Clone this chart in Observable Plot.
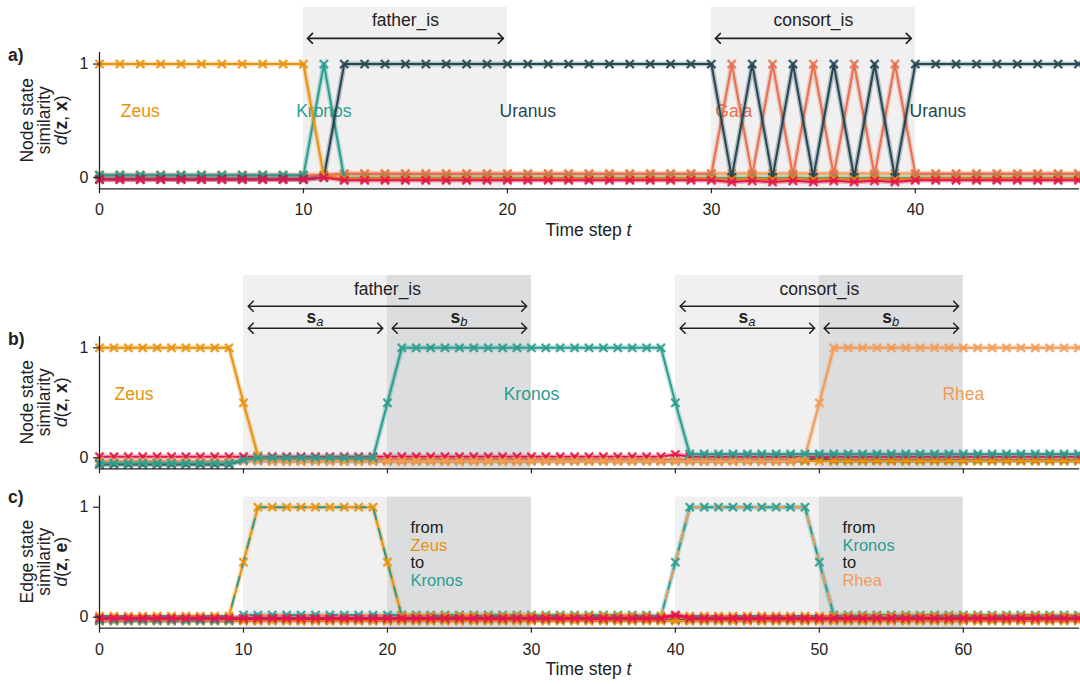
<!DOCTYPE html>
<html>
<head>
<meta charset="utf-8">
<script src="https://cdn.jsdelivr.net/npm/d3@7"></script>
<script src="https://cdn.jsdelivr.net/npm/@observablehq/plot@0.6"></script>
<style>
  body { margin: 0; background: #fff; }
  #fig { width: 1080px; height: 684px; overflow: hidden; }
  #fig svg { display: block; }
</style>
</head>
<body>
<div id="fig"></div>
<script>
// ---------- data ----------
// Panel a: node state similarity, time steps 0..48
const stepsA = d3.range(0, 49);
const zeusA = [
  1, 1, 1, 1, 1, 1, 1, 1, 1, 1,
  1, 0.01, -0.01, -0.01, -0.01, -0.01, -0.01, -0.01, -0.01, -0.01,
  -0.01, -0.01, -0.01, -0.01, -0.01, -0.01, -0.01, -0.01, -0.01, -0.01,
  -0.01, -0.02, -0.01, -0.02, -0.01, -0.02, -0.01, -0.02, -0.01, -0.02,
  -0.01, -0.01, -0.01, -0.01, -0.01, -0.01, -0.01, -0.01, -0.01
];
const kronosA = [
  0.02, 0.02, 0.02, 0.02, 0.02, 0.02, 0.02, 0.02, 0.02, 0.02,
  0.02, 1, -0.005, -0.005, -0.005, -0.005, -0.005, -0.005, -0.005, -0.005,
  -0.005, -0.005, -0.005, -0.005, -0.005, -0.005, -0.005, -0.005, -0.005, -0.005,
  -0.005, -0.005, -0.005, -0.005, -0.005, -0.005, -0.005, -0.005, -0.005, -0.005,
  -0.005, -0.005, -0.005, -0.005, -0.005, -0.005, -0.005, -0.005, -0.005
];
const uranusA = [
  -0.015, -0.015, -0.015, -0.015, -0.015, -0.015, -0.015, -0.015, -0.015, -0.015,
  -0.015, 0, 1, 1, 1, 1, 1, 1, 1, 1,
  1, 1, 1, 1, 1, 1, 1, 1, 1, 1,
  1, 0, 1, 0, 1, 0, 1, 0, 1, 0,
  1, 1, 1, 1, 1, 1, 1, 1, 1
];
const gaiaA = [
  0.02, 0.02, 0.02, 0.02, 0.02, 0.02, 0.02, 0.02, 0.02, 0.02,
  0.02, 0.02, 0.03, 0.03, 0.03, 0.03, 0.03, 0.03, 0.03, 0.03,
  0.03, 0.03, 0.03, 0.03, 0.03, 0.03, 0.03, 0.03, 0.03, 0.03,
  0.03, 1, 0.02, 1, 0.02, 1, 0.02, 1, 0.02, 1,
  0.03, 0.03, 0.03, 0.03, 0.03, 0.03, 0.03, 0.03, 0.03
];
const rheaA = [
  0.02, 0.02, 0.02, 0.02, 0.02, 0.02, 0.02, 0.02, 0.02, 0.02,
  0.02, 0.02, 0.035, 0.035, 0.035, 0.035, 0.035, 0.035, 0.035, 0.035,
  0.035, 0.035, 0.035, 0.035, 0.035, 0.035, 0.035, 0.035, 0.035, 0.035,
  0.035, 0.035, 0.035, 0.035, 0.035, 0.035, 0.035, 0.035, 0.035, 0.035,
  0.035, 0.035, 0.035, 0.035, 0.035, 0.035, 0.035, 0.035, 0.035
];
const otherA = [
  -0.02, -0.02, -0.02, -0.02, -0.02, -0.02, -0.02, -0.02, -0.02, -0.02,
  -0.02, 0, -0.025, -0.025, -0.025, -0.025, -0.025, -0.025, -0.025, -0.025,
  -0.025, -0.025, -0.025, -0.025, -0.025, -0.025, -0.025, -0.025, -0.025, -0.025,
  -0.025, -0.04, -0.03, -0.04, -0.03, -0.04, -0.03, -0.04, -0.03, -0.04,
  -0.025, -0.025, -0.025, -0.025, -0.025, -0.025, -0.025, -0.025, -0.025
];

// Panels b and c: time steps 0..68
const stepsBC = d3.range(0, 69);
const zeusB = [
  1, 1, 1, 1, 1, 1, 1, 1, 1, 1,
  0.5, 0.02, -0.03, -0.03, -0.03, -0.03, -0.03, -0.03, -0.03, -0.03,
  -0.03, -0.03, -0.03, -0.03, -0.03, -0.03, -0.03, -0.03, -0.03, -0.03,
  -0.03, -0.03, -0.03, -0.03, -0.03, -0.03, -0.03, -0.03, -0.03, -0.03,
  -0.03, -0.03, -0.03, -0.03, -0.03, -0.03, -0.03, -0.03, -0.03, -0.03,
  -0.03, -0.03, -0.03, -0.03, -0.03, -0.03, -0.03, -0.03, -0.03, -0.03,
  -0.03, -0.03, -0.03, -0.03, -0.03, -0.03, -0.03, -0.03, -0.03
];
const kronosB = [
  -0.05, -0.05, -0.05, -0.05, -0.05, -0.05, -0.05, -0.05, -0.05, -0.05,
  -0.02, 0, 0, 0, 0, 0, 0, 0, 0, 0,
  0.5, 1, 1, 1, 1, 1, 1, 1, 1, 1,
  1, 1, 1, 1, 1, 1, 1, 1, 1, 1,
  0.5, 0.035, 0.035, 0.035, 0.035, 0.035, 0.035, 0.035, 0.035, 0.035,
  0.035, 0.035, 0.035, 0.035, 0.035, 0.035, 0.035, 0.035, 0.035, 0.035,
  0.035, 0.035, 0.035, 0.035, 0.035, 0.035, 0.035, 0.035, 0.035
];
const rheaB = [
  -0.03, -0.03, -0.03, -0.03, -0.03, -0.03, -0.03, -0.03, -0.03, -0.03,
  -0.03, -0.03, -0.03, -0.03, -0.03, -0.03, -0.03, -0.03, -0.03, -0.03,
  -0.03, -0.03, -0.03, -0.03, -0.03, -0.03, -0.03, -0.03, -0.03, -0.03,
  -0.03, -0.03, -0.03, -0.03, -0.03, -0.03, -0.03, -0.03, -0.03, -0.03,
  -0.03, -0.03, -0.03, -0.03, -0.03, -0.03, -0.03, -0.03, -0.03, 0.01,
  0.5, 1, 1, 1, 1, 1, 1, 1, 1, 1,
  1, 1, 1, 1, 1, 1, 1, 1, 1
];
const otherB = [
  0.01, 0.01, 0.01, 0.01, 0.01, 0.01, 0.01, 0.01, 0.01, 0.01,
  0.01, 0.01, 0.01, 0.01, 0.01, 0.01, 0.01, 0.01, 0.01, 0.01,
  0.01, 0.01, 0.01, 0.01, 0.01, 0.01, 0.01, 0.01, 0.01, 0.01,
  0.01, 0.01, 0.01, 0.01, 0.01, 0.01, 0.01, 0.01, 0.01, 0.01,
  0.03, 0.01, 0.01, 0.01, 0.01, 0.01, 0.01, 0.01, 0.01, 0.01,
  0.01, 0.01, 0.01, 0.01, 0.01, 0.01, 0.01, 0.01, 0.01, 0.01,
  0.01, 0.01, 0.01, 0.01, 0.01, 0.01, 0.01, 0.01, 0.01
];
const uranusB = [
  -0.06, -0.06, -0.06, -0.06, -0.06, -0.06, -0.06, -0.06, -0.06, -0.06,
  -0.025, -0.025, -0.025, -0.025, -0.025, -0.025, -0.025, -0.025, -0.025, -0.025,
  -0.025, -0.025, -0.025, -0.025, -0.025, -0.025, -0.025, -0.025, -0.025, -0.025,
  -0.025, -0.025, -0.025, -0.025, -0.025, -0.025, -0.025, -0.025, -0.025, -0.025,
  -0.025, -0.025, -0.025, -0.025, -0.025, -0.025, -0.025, -0.025, -0.025, -0.025,
  0, -0.025, -0.025, -0.025, -0.025, -0.025, -0.025, -0.025, -0.025, -0.025,
  -0.025, -0.025, -0.025, -0.025, -0.025, -0.025, -0.025, -0.025, -0.025
];

// Panel c: edge state similarity
const zeusToKronosC = [
  0.01, 0.01, 0.01, 0.01, 0.01, 0.01, 0.01, 0.01, 0.01, 0.01,
  0.5, 1, 1, 1, 1, 1, 1, 1, 1, 1,
  0.5, 0.01, 0.01, 0.01, 0.01, 0.01, 0.01, 0.01, 0.01, 0.01,
  0.01, 0.01, 0.01, 0.01, 0.01, 0.01, 0.01, 0.01, 0.01, 0.01,
  0.01, 0.01, 0.01, 0.01, 0.01, 0.01, 0.01, 0.01, 0.01, 0.01,
  0.01, 0.01, 0.01, 0.01, 0.01, 0.01, 0.01, 0.01, 0.01, 0.01,
  0.01, 0.01, 0.01, 0.01, 0.01, 0.01, 0.01, 0.01, 0.01
];
const kronosToRheaC = [
  -0.03, -0.03, -0.03, -0.03, -0.03, -0.03, -0.03, -0.03, -0.03, -0.03,
  0.02, 0.02, 0.02, 0.02, 0.02, 0.02, 0.02, 0.02, 0.02, 0.02,
  0.02, 0.02, 0.02, 0.02, 0.02, 0.02, 0.02, 0.02, 0.02, 0.02,
  0.02, 0.02, 0.02, 0.02, 0.02, 0.02, 0.02, 0.02, 0.02, 0.005,
  0.5, 1, 1, 1, 1, 1, 1, 1, 1, 1,
  0.5, 0.02, 0.02, 0.02, 0.02, 0.02, 0.02, 0.02, 0.02, 0.02,
  0.02, 0.02, 0.02, 0.02, 0.02, 0.02, 0.02, 0.02, 0.02
];
const otherC = [
  -0.01, -0.01, -0.01, -0.01, -0.01, -0.01, -0.01, -0.01, -0.01, -0.01,
  -0.01, -0.01, -0.01, -0.01, -0.01, -0.01, -0.01, -0.01, -0.01, -0.01,
  -0.01, -0.01, -0.01, -0.01, -0.01, -0.01, -0.01, -0.01, -0.01, -0.01,
  -0.01, -0.01, -0.01, -0.01, -0.01, -0.01, -0.01, -0.01, -0.01, -0.01,
  0.02, -0.01, -0.01, -0.01, -0.01, -0.01, -0.01, -0.01, -0.01, -0.01,
  -0.01, -0.01, -0.01, -0.01, -0.01, -0.01, -0.01, -0.01, -0.01, -0.01,
  -0.01, -0.01, -0.01, -0.01, -0.01, -0.01, -0.01, -0.01, -0.01
];
const uranusC = [
  -0.025, -0.025, -0.025, -0.025, -0.025, -0.025, -0.025, -0.025, -0.025, -0.025,
  -0.025, -0.025, -0.025, -0.025, -0.025, -0.025, -0.025, -0.025, -0.025, -0.025,
  -0.025, -0.025, -0.025, -0.025, -0.025, -0.025, -0.025, -0.025, -0.025, -0.025,
  -0.025, -0.025, -0.025, -0.025, -0.025, -0.025, -0.025, -0.025, -0.025, -0.025,
  -0.025, -0.025, -0.025, -0.025, -0.025, -0.025, -0.025, -0.025, -0.025, -0.025,
  -0.025, -0.025, -0.025, -0.025, -0.025, -0.025, -0.025, -0.025, -0.025, -0.025,
  -0.025, -0.025, -0.025, -0.025, -0.025, -0.025, -0.025, -0.025, -0.025
];
const zeusC = [
  -0.035, -0.035, -0.035, -0.035, -0.035, -0.035, -0.035, -0.035, -0.035, -0.035,
  -0.035, -0.035, -0.035, -0.035, -0.035, -0.035, -0.035, -0.035, -0.035, -0.035,
  -0.035, -0.035, -0.035, -0.035, -0.035, -0.035, -0.035, -0.035, -0.035, -0.035,
  -0.035, -0.035, -0.035, -0.035, -0.035, -0.035, -0.035, -0.035, -0.035, -0.035,
  -0.035, -0.035, -0.035, -0.035, -0.035, -0.035, -0.035, -0.035, -0.035, -0.035,
  -0.035, -0.035, -0.035, -0.035, -0.035, -0.035, -0.035, -0.035, -0.035, -0.035,
  -0.035, -0.035, -0.035, -0.035, -0.035, -0.035, -0.035, -0.035, -0.035
];

// Relations and the time spans they cover
const relations = ["father_is", "consort_is"];
const relStartA = [10, 30];
const relEndA = [20, 40];
const relStartBC = [10, 40];
const relSplitBC = [20, 50];
const relEndBC = [30, 60];

// Entity labels
const namesA = ["Zeus", "Kronos", "Uranus", "Gaia", "Uranus"];
const nameStepA = [2, 11, 21, 31.1, 41.1];
const namesB = ["Zeus", "Kronos", "Rhea"];
const nameStepB = [2.4, 30, 60];
const edgeFrom = ["Zeus", "Kronos"];
const edgeTo = ["Kronos", "Rhea"];
const edgeStep = [21.6, 51.6];

const ticksA = [0, 10, 20, 30, 40];
const ticksBC = [0, 10, 20, 30, 40, 50, 60];

// ---------- styling ----------
const W = 1080;
const FONT = '"Liberation Sans", Arial, Helvetica, sans-serif';
const INK = "#222";
const COLOR = {
  Zeus: "#E8920E", Kronos: "#2A9D8F", Uranus: "#264653",
  Gaia: "#E76F51", Rhea: "#F29B57", Other: "#E2164F"
};
const SHADE_LIGHT = "#F0F0F0";
const SHADE_DARK = "#DCDDDF";
const LABEL_SIZE = 17.5;
const TICK_SIZE = 16;

// open chevron arrowhead, reversed at the start of a path
function chevron(color) {
  const ns = "http://www.w3.org/2000/svg";
  const m = document.createElementNS(ns, "marker");
  m.setAttribute("viewBox", "-6 -6 12 12");
  m.setAttribute("markerWidth", 12);
  m.setAttribute("markerHeight", 12);
  m.setAttribute("markerUnits", "userSpaceOnUse");
  m.setAttribute("orient", "auto-start-reverse");
  m.setAttribute("fill", "none");
  m.setAttribute("stroke", color);
  m.setAttribute("stroke-width", 1.6);
  m.setAttribute("stroke-linecap", "round");
  m.setAttribute("stroke-linejoin", "round");
  const p = document.createElementNS(ns, "path");
  p.setAttribute("d", "M-5,-5L0,0L-5,5");
  m.appendChild(p);
  return m;
}

function rows(steps, values) {
  return steps.map((t, i) => ({t, v: values[i]}));
}

// a line with a pale halo and x markers
function series(steps, values, color, {width = 2, dashColor = null, r = 3.8} = {}) {
  const data = rows(steps, values);
  const marks = [
    Plot.line(data, {x: "t", y: "v", stroke: color, strokeWidth: width + 3, strokeOpacity: 0.3, strokeLinejoin: "round"}),
    Plot.line(data, {x: "t", y: "v", stroke: color, strokeWidth: width, strokeLinejoin: "round"})
  ];
  if (dashColor) {
    marks.push(Plot.line(data, {x: "t", y: "v", stroke: dashColor, strokeWidth: width, strokeDasharray: "10,10"}));
  }
  marks.push(
    Plot.dot(data, {x: "t", y: "v", symbol: "times", r, stroke: color, strokeWidth: 3.4, strokeOpacity: 0.3}),
    Plot.dot(data, {x: "t", y: "v", symbol: "times", r, stroke: color, strokeWidth: 1.5})
  );
  return marks;
}

function doubleArrow(data) {
  return Plot.link(data, {
    x1: "x1", x2: "x2", y1: "y", y2: "y",
    stroke: INK, strokeWidth: 1.6,
    markerStart: chevron, markerEnd: chevron
  });
}

function axes(ticks, showLabels) {
  return [
    Plot.axisX({ticks, tickSize: 5, tickPadding: 10, label: null, fontSize: TICK_SIZE,
      stroke: INK, strokeWidth: 1.2, tickFormat: showLabels ? (d) => `${d}` : () => ""}),
    Plot.axisY({ticks: [0, 1], tickSize: 6, tickPadding: 5, label: null, fontSize: TICK_SIZE,
      stroke: INK, strokeWidth: 1.2, tickFormat: (d) => `${d}`}),
    Plot.frame({anchor: "bottom", stroke: INK, strokeWidth: 1.3}),
    Plot.frame({anchor: "left", stroke: INK, strokeWidth: 1.3})
  ];
}

function makePlot({height, xDomain, yRange, marks}) {
  const xRange = [99, 1078];
  return Plot.plot({
    width: W, height,
    marginLeft: xRange[0], marginRight: W - xRange[1],
    marginTop: yRange[1], marginBottom: height - yRange[0],
    x: {domain: xDomain, range: xRange},
    y: {domain: [-0.1, 1.1], range: yRange},
    style: {fontFamily: FONT, color: INK, background: "white", overflow: "visible"},
    marks
  });
}

// rich text (italic / bold / subscript pieces) placed in pixel space
function rich(svg, x, y, parts, {anchor = "middle", rotate = 0, size = LABEL_SIZE, fill = INK, weight = null} = {}) {
  const text = d3.select(svg).append("text")
    .attr("transform", `translate(${x},${y})` + (rotate ? ` rotate(${rotate})` : ""))
    .attr("text-anchor", anchor)
    .attr("font-family", FONT)
    .attr("font-size", size)
    .attr("fill", fill);
  if (weight) text.attr("font-weight", weight);
  for (const p of parts) {
    const s = text.append("tspan").text(p.text);
    if (p.italic) s.attr("font-style", "italic");
    if (p.bold) s.attr("font-weight", "bold");
    if (p.sub) s.attr("font-size", size * 0.74).attr("dy", size * 0.22);
  }
}

function yTitle(svg, first, symbol) {
  const cy = svg.scale("y").apply(0.5);
  rich(svg, 32.5, cy, [{text: first}], {rotate: -90});
  rich(svg, 49.5, cy, [{text: "similarity"}], {rotate: -90});
  rich(svg, 66.5, cy, [
    {text: "d", italic: true}, {text: "("}, {text: "z", bold: true},
    {text: ", "}, {text: symbol, bold: true}, {text: ")"}
  ], {rotate: -90});
}

const fig = document.getElementById("fig");

// ---------- panel a ----------
{
  const relA = relations.map((name, i) => ({name, x1: relStartA[i], x2: relEndA[i]}));
  const arrowsA = relA.map((d) => ({x1: d.x1 + 0.2, x2: d.x2 - 0.2, y: 1.226}));
  const labelsA = namesA.map((name, i) => ({name, t: nameStepA[i]}));
  const svg = makePlot({
    height: 245,
    xDomain: [0, 48],
    yRange: [188.3, 52.2],
    marks: [
      Plot.rect(relA, {x1: "x1", x2: "x2", y1: -0.1, y2: 1.5, fill: SHADE_LIGHT}),
      doubleArrow(arrowsA),
      Plot.text(relA, {x: (d) => (d.x1 + d.x2) / 2, y: 1.382, text: "name", fontSize: LABEL_SIZE, fill: INK}),
      Plot.text(labelsA, {x: "t", y: 0.58, text: "name", fill: (d) => COLOR[d.name], fontSize: LABEL_SIZE}),
      ...series(stepsA, rheaA, COLOR.Rhea),
      ...series(stepsA, gaiaA, COLOR.Gaia),
      ...series(stepsA, kronosA, COLOR.Kronos),
      ...series(stepsA, uranusA, COLOR.Uranus),
      ...series(stepsA, zeusA, COLOR.Zeus),
      ...series(stepsA, otherA, COLOR.Other),
      ...axes(ticksA, true)
    ]
  });
  yTitle(svg, "Node state", "x");
  rich(svg, 8, 61, [{text: "a)"}], {anchor: "start", weight: "bold"});
  rich(svg, svg.scale("x").apply(24), 236, [{text: "Time step "}, {text: "t", italic: true}]);
  fig.appendChild(svg);
}

// shading for the two halves of each relation span (panels b and c)
function splitShading(yTop) {
  const spans = relations.map((name, i) => ({name, a: relStartBC[i], m: relSplitBC[i], b: relEndBC[i]}));
  return [
    Plot.rect(spans, {x1: "a", x2: "m", y1: -0.1, y2: yTop, fill: SHADE_LIGHT}),
    Plot.rect(spans, {x1: "m", x2: "b", y1: -0.1, y2: yTop, fill: SHADE_DARK})
  ];
}

// ---------- panel b ----------
{
  const spans = relations.map((name, i) => ({name, a: relStartBC[i], m: relSplitBC[i], b: relEndBC[i]}));
  const inset = 0.33;
  const fullArrows = spans.map((d) => ({x1: d.a + inset, x2: d.b - inset, y: 1.378}));
  const partArrows = spans.flatMap((d) => [
    {x1: d.a + inset, x2: d.m - inset, y: 1.178},
    {x1: d.m + inset, x2: d.b - inset, y: 1.178}
  ]);
  const labelsB = namesB.map((name, i) => ({name, t: nameStepB[i]}));
  const svg = makePlot({
    height: 230,
    xDomain: [0, 68],
    yRange: [223.3, 91.3],
    marks: [
      ...splitShading(1.657),
      doubleArrow(fullArrows),
      doubleArrow(partArrows),
      Plot.text(spans, {x: (d) => (d.a + d.b) / 2, y: 1.535, text: "name", fontSize: LABEL_SIZE, fill: INK}),
      Plot.text(labelsB, {x: "t", y: 0.58, text: "name", fill: (d) => COLOR[d.name], fontSize: LABEL_SIZE}),
      ...series(stepsBC, uranusB, COLOR.Uranus),
      ...series(stepsBC, otherB, COLOR.Other),
      ...series(stepsBC, zeusB, COLOR.Zeus),
      ...series(stepsBC, rheaB, COLOR.Rhea),
      ...series(stepsBC, kronosB, COLOR.Kronos),
      ...axes(ticksBC, false)
    ]
  });
  const sx = svg.scale("x"), sy = svg.scale("y");
  for (const d of spans) {
    rich(svg, sx.apply((d.a + d.m) / 2), sy.apply(1.225), [{text: "s", bold: true}, {text: "a", italic: true, sub: true}]);
    rich(svg, sx.apply((d.m + d.b) / 2), sy.apply(1.225), [{text: "s", bold: true}, {text: "b", italic: true, sub: true}]);
  }
  yTitle(svg, "Node state", "x");
  rich(svg, 8, 100, [{text: "b)"}], {anchor: "start", weight: "bold"});
  fig.appendChild(svg);
}

// ---------- panel c ----------
{
  const edgeLines = edgeFrom.flatMap((from, i) => [
    {t: edgeStep[i], y: 0.81, text: "from", color: INK},
    {t: edgeStep[i], y: 0.652, text: from, color: COLOR[from]},
    {t: edgeStep[i], y: 0.494, text: "to", color: INK},
    {t: edgeStep[i], y: 0.336, text: edgeTo[i], color: COLOR[edgeTo[i]]}
  ]);
  const svg = makePlot({
    height: 209,
    xDomain: [0, 68],
    yRange: [152.7, 20.7],
    marks: [
      ...splitShading(1.092),
      Plot.text(edgeLines, {x: "t", y: "y", text: "text", fill: "color", textAnchor: "start", fontSize: 16.5}),
      ...series(stepsBC, uranusC, COLOR.Uranus),
      ...series(stepsBC, zeusC, COLOR.Zeus),
      ...series(stepsBC, kronosToRheaC, COLOR.Kronos, {dashColor: COLOR.Rhea}),
      ...series(stepsBC, zeusToKronosC, COLOR.Zeus, {dashColor: COLOR.Kronos}),
      ...series(stepsBC, otherC, COLOR.Other, {width: 3}),
      ...axes(ticksBC, true)
    ]
  });
  yTitle(svg, "Edge state", "e");
  rich(svg, 8, 28, [{text: "c)"}], {anchor: "start", weight: "bold"});
  rich(svg, svg.scale("x").apply(34), 200, [{text: "Time step "}, {text: "t", italic: true}]);
  fig.appendChild(svg);
}
</script>
</body>
</html>
